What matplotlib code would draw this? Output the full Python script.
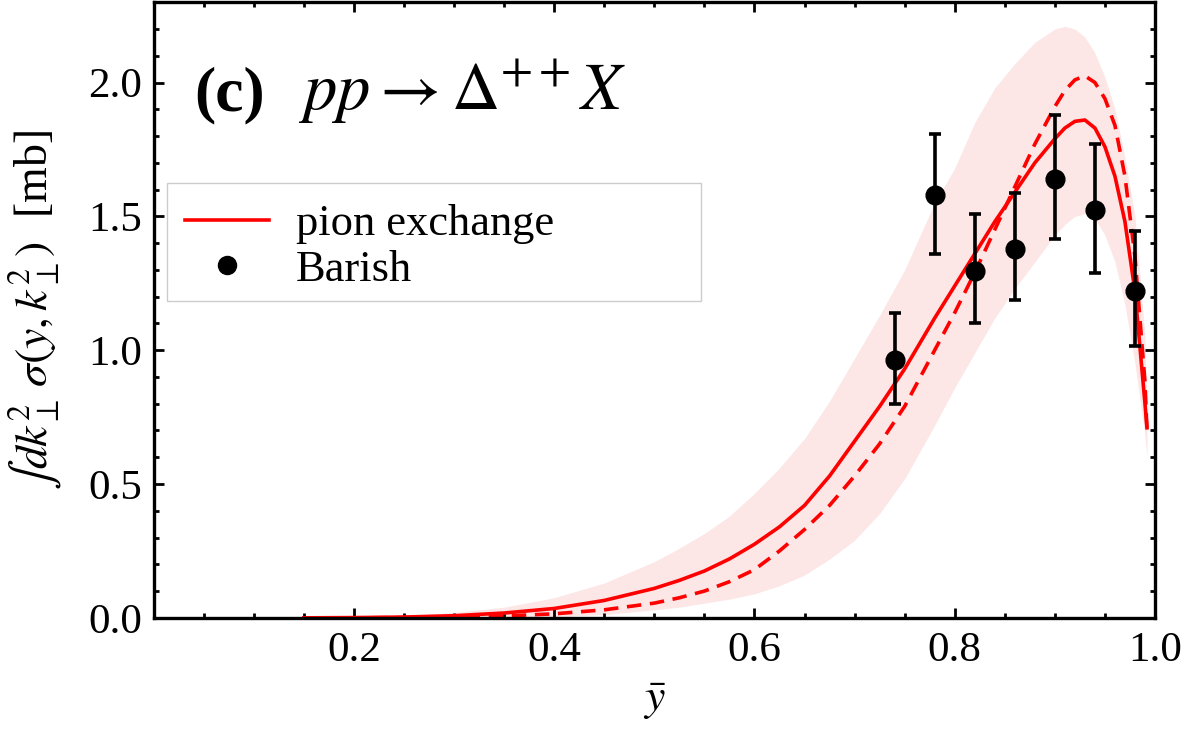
import numpy as np
import matplotlib
matplotlib.use("Agg")
import matplotlib.pyplot as plt
import matplotlib.ticker as ticker
from matplotlib.lines import Line2D
from matplotlib.patches import Rectangle

plt.rcParams['font.family'] = ['Liberation Serif', 'DejaVu Serif']
plt.rcParams['mathtext.fontset'] = 'stix'

# curvas
y_curve = [0.15, 0.20, 0.25, 0.30, 0.35, 0.40, 0.45, 0.50, 0.525, 0.55, 0.575, 0.60,
           0.625, 0.65, 0.675, 0.70, 0.725, 0.75, 0.78, 0.80, 0.82, 0.84, 0.86, 0.88,
           0.90, 0.91, 0.92, 0.93, 0.94, 0.95, 0.96, 0.97, 0.98, 0.99, 0.992]
pion_solid = [0.0, 0.001, 0.003, 0.008, 0.018, 0.035, 0.065, 0.11, 0.14, 0.175, 0.22, 0.275,
              0.34, 0.42, 0.53, 0.66, 0.79, 0.93, 1.12, 1.24, 1.36, 1.48, 1.59, 1.70,
              1.79, 1.83, 1.855, 1.86, 1.83, 1.76, 1.65, 1.48, 1.22, 0.80, 0.71]
pion_dashed = [0.0, 0.0, 0.001, 0.003, 0.007, 0.015, 0.03, 0.055, 0.075, 0.10, 0.135, 0.18,
               0.25, 0.33, 0.42, 0.53, 0.65, 0.79, 1.0, 1.14, 1.29, 1.45, 1.61, 1.77,
               1.91, 1.97, 2.01, 2.025, 2.0, 1.94, 1.84, 1.65, 1.35, 0.88, 0.70]
band_lo = [0.0, 0.0, 0.0, 0.001, 0.002, 0.005, 0.012, 0.03, 0.04, 0.055, 0.07, 0.09,
           0.12, 0.16, 0.22, 0.29, 0.39, 0.52, 0.72, 0.86, 0.99, 1.12, 1.23, 1.33,
           1.43, 1.47, 1.50, 1.51, 1.49, 1.43, 1.33, 1.17, 0.95, 0.68, 0.60]
band_hi = [0.001, 0.003, 0.008, 0.02, 0.04, 0.075, 0.13, 0.21, 0.26, 0.315, 0.38, 0.465,
           0.56, 0.67, 0.81, 0.97, 1.13, 1.30, 1.55, 1.68, 1.85, 1.98, 2.07, 2.15,
           2.20, 2.21, 2.20, 2.17, 2.11, 2.02, 1.90, 1.72, 1.50, 1.05, 0.75]

# dados Barish
y_data = [0.74, 0.78, 0.82, 0.86, 0.90, 0.94, 0.98]
sig_data = [0.963, 1.578, 1.295, 1.377, 1.64, 1.522, 1.22]
err_lo = [0.165, 0.22, 0.195, 0.19, 0.225, 0.235, 0.205]
err_hi = [0.175, 0.23, 0.215, 0.21, 0.24, 0.25, 0.225]

fig = plt.figure(figsize=(12, 7.48), dpi=100)
ax = fig.add_axes([0.128, 0.174, 0.8345, 0.823])

ax.fill_between(y_curve, band_lo, band_hi, color='#fce6e6', linewidth=0)
ax.plot(y_curve, pion_dashed, color='red', linewidth=2.6, dashes=(4, 2.4))
ax.plot(y_curve, pion_solid, color='red', linewidth=2.6)
ax.errorbar(y_data, sig_data, yerr=[err_lo, err_hi], fmt='o', color='black',
            markersize=13.5, elinewidth=2.6, capsize=4, capthick=2.6)

ax.set_xlim(0, 1.0)
ax.set_ylim(0, 2.3)
ax.xaxis.set_major_locator(ticker.FixedLocator([0.2, 0.4, 0.6, 0.8, 1.0]))
ax.xaxis.set_minor_locator(ticker.MultipleLocator(0.05))
ax.yaxis.set_major_locator(ticker.MultipleLocator(0.5))
ax.yaxis.set_minor_locator(ticker.MultipleLocator(0.1))
ax.xaxis.set_major_formatter(ticker.FormatStrFormatter('%.1f'))
ax.yaxis.set_major_formatter(ticker.FormatStrFormatter('%.1f'))
ax.tick_params(which='both', direction='in', top=True, right=True, width=2.0, labelsize=31)
ax.tick_params(which='major', length=7)
ax.tick_params(which='minor', length=3.5)
ax.tick_params(axis='x', pad=10)
ax.tick_params(axis='y', pad=8)
for s in ax.spines.values():
    s.set_linewidth(2.4)

ax.set_xlabel(r'$\bar{y}$', fontsize=33)
ax.xaxis.set_label_coords(0.5, -0.1)
ax.set_ylabel(r'$\int dk_\perp^2\,\sigma(y,k_\perp^2)$  [mb]', fontsize=33)
ax.yaxis.set_label_coords(-0.09, 0.5)

ax.text(0.041, 0.825, '(c)', transform=ax.transAxes, fontsize=46, fontweight='bold')
ax.text(0.144, 0.825, r'$pp \rightarrow \Delta^{++}X$', transform=ax.transAxes, fontsize=48)

# legenda com moldura desenhada à mão (mais larga que o texto)
ax.add_patch(Rectangle((0.013, 0.515), 0.534, 0.192, transform=ax.transAxes,
                       facecolor='white', edgecolor='#cccccc', linewidth=1.0, zorder=4))
handles = [Line2D([], [], color='red', linewidth=2.6),
           Line2D([], [], color='black', marker='o', linestyle='none', markersize=13)]
leg = ax.legend(handles, ['pion exchange', 'Barish'], loc='upper left',
                bbox_to_anchor=(0.031, 0.672), fontsize=32, frameon=False,
                handlelength=1.9, handletextpad=0.6, labelspacing=0.12,
                borderpad=0, borderaxespad=0)
leg.set_zorder(5)

fig.savefig('out.png', dpi=100)
